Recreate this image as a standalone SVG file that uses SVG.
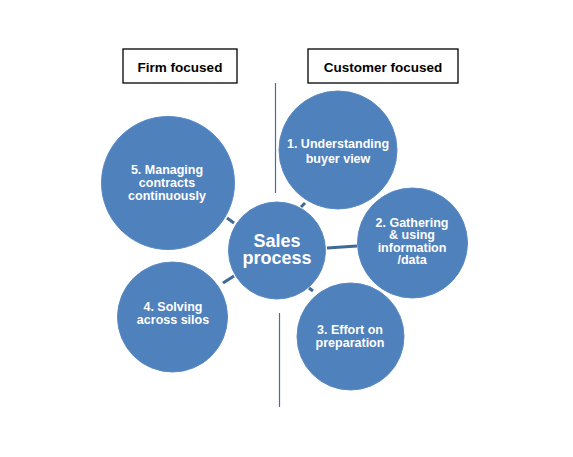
<svg xmlns="http://www.w3.org/2000/svg" width="573" height="457" viewBox="0 0 573 457">
<style>
.c{fill:#4f81bd;stroke:#5a8ac4;stroke-width:1}
.t{font-family:"Liberation Sans",Arial,sans-serif;font-weight:bold;fill:#fff;text-anchor:middle;font-size:12.5px}
.big{font-size:18px}
.box{fill:#fff;stroke:#000;stroke-width:1.3}
.bt{font-family:"Liberation Sans",Arial,sans-serif;font-weight:bold;fill:#000;text-anchor:middle;font-size:13.5px}
.div{stroke:#4a6d9c;stroke-width:1.2}
.k{stroke:#3e6a98;stroke-width:3}
</style>
<rect width="573" height="457" fill="#fff"/>
<g id="firm-label"><rect class="box" x="123" y="49" width="114" height="34"/><text class="bt" x="180" y="72">Firm focused</text></g>
<g id="customer-label"><rect class="box" x="308" y="49" width="150" height="34"/><text class="bt" x="383" y="72">Customer focused</text></g>
<g id="dividers"><line class="div" x1="275.5" y1="83" x2="275.5" y2="193"/><line class="div" x1="279.5" y1="313" x2="279.5" y2="407"/></g>
<g id="connectors">
<line class="k" x1="227" y1="218" x2="234" y2="223"/>
<line class="k" x1="223" y1="283" x2="234" y2="276"/>
<line class="k" x1="301" y1="207" x2="305" y2="203"/>
<line class="k" x1="327" y1="248" x2="357" y2="246"/>
<line class="k" x1="309" y1="288" x2="313" y2="291"/>
</g>
<g id="node-1"><circle class="c" cx="338" cy="150" r="59"/><text class="t" x="338" y="148">1. Understanding</text><text class="t" x="338" y="163">buyer view</text></g>
<g id="node-2"><circle class="c" cx="412.5" cy="243" r="55"/><text class="t" x="412" y="227">2. Gathering</text><text class="t" x="412" y="239">&amp; using</text><text class="t" x="412" y="251.5">information</text><text class="t" x="412" y="263.5">/data</text></g>
<g id="node-3"><circle class="c" cx="350.5" cy="336.5" r="53.5"/><text class="t" x="350" y="334">3. Effort on</text><text class="t" x="350" y="347">preparation</text></g>
<g id="node-4"><circle class="c" cx="172.5" cy="317" r="55"/><text class="t" x="173" y="311">4. Solving</text><text class="t" x="173" y="323.5">across silos</text></g>
<g id="node-5"><circle class="c" cx="168" cy="183" r="66.5"/><text class="t" x="167" y="174">5. Managing</text><text class="t" x="167" y="187">contracts</text><text class="t" x="167" y="199.5">continuously</text></g>
<g id="center"><circle class="c" cx="277" cy="250.5" r="48.5"/><text class="t big" x="277" y="247">Sales</text><text class="t big" x="277" y="264">process</text></g>
</svg>
